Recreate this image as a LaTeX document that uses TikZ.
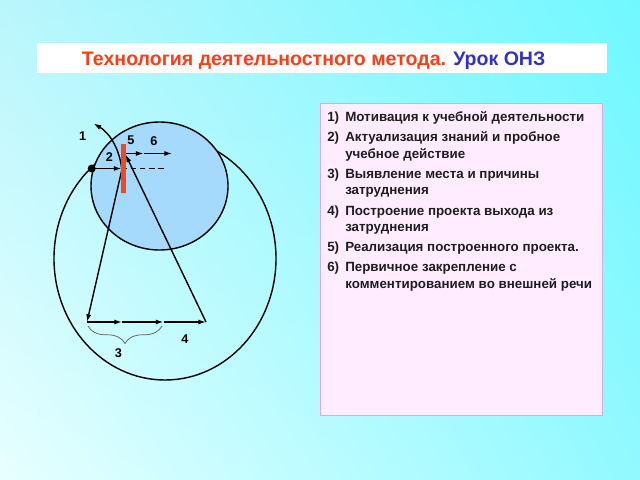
\documentclass[tikz,border=0pt]{standalone}
\usepackage{fontspec}
\setmainfont{Liberation Sans}
\usetikzlibrary{arrows.meta}
\usetikzlibrary{positioning}
\usetikzlibrary{shadings}
\usetikzlibrary{decorations.pathreplacing}
\definecolor{titlered}{RGB}{250,62,22}
\definecolor{titleblue}{RGB}{50,52,190}
\definecolor{zonefill}{RGB}{165,218,252}
\definecolor{barred}{RGB}{240,72,36}
\definecolor{listfill}{RGB}{255,236,255}
\definecolor{listedge}{RGB}{215,172,230}
\definecolor{listtext}{RGB}{30,30,30}
\definecolor{bracegray}{RGB}{90,90,90}
\definecolor{bgtl}{RGB}{185,246,252}
\definecolor{bgtr}{RGB}{112,248,255}
\definecolor{bgbl}{RGB}{232,255,255}
\definecolor{bgbr}{RGB}{145,249,255}
\newcommand{\stageline}[2]{%
    \parbox[t]{190pt}{\baselineskip=11.8pt
        \hangindent=12.8pt\hangafter=1\noindent
        \makebox[12.8pt][l]{#1}#2}%
}
\def\Motivation{\stageline{1)}{Мотивация к учебной деятельности}}
\def\Actualization{\stageline{2)}{Актуализация знаний и пробное\\учебное действие}}
\def\Difficulty{\stageline{3)}{Выявление места и причины\\затруднения}}
\def\Project{\stageline{4)}{Построение проекта выхода из\\затруднения}}
\def\Realization{\stageline{5)}{Реализация построенного проекта.}}
\def\Fixing{\stageline{6)}{Первичное закрепление с\\комментированием во внешней речи}}

\begin{document}
\begin{tikzpicture}[x=0.025cm, y=-0.025cm,
                    orbit/.style={draw, line width=1pt},
                    flow/.style={line width=1pt, -{Latex[length=5.5pt,width=3.6pt]}},
                    digit/.style={font=\bfseries\fontsize{9}{10}\selectfont, inner sep=0pt},
                    stagenode/.style={anchor=base west, inner sep=0pt,
                        font=\bfseries\fontsize{9.5}{11.8}\selectfont, text=listtext},
                    brace3/.style={decorate, decoration={brace, mirror, amplitude=12.5pt},
                        draw=bracegray, line width=0.5pt}]
    \useasboundingbox (0,0) rectangle (640,480);

    % background and title bar
    \shade[upper left=bgtl, upper right=bgtr, lower left=bgbl, lower right=bgbr]
        (0,0) rectangle (640,480);
    \fill[white] (37,43.3) rectangle (606.7,73);
    \node[anchor=base west, inner sep=0pt, font=\bfseries\fontsize{13.9}{16}\selectfont]
        (title) at (81.7,65)
        {\textcolor{titlered}{Технология деятельностного метода.} \textcolor{titleblue}{Урок ОНЗ}};

    % list of stages
    \draw[fill=listfill, draw=listedge, line width=0.7pt] (320,103) rectangle (602.7,415);
    \node[stagenode] (m1) at (327,121)   {\Motivation};
    \node[stagenode] (m2) at (327,141.7) {\Actualization};
    \node[stagenode] (m3) at (327,178.3) {\Difficulty};
    \node[stagenode] (m4) at (327,215)   {\Project};
    \node[stagenode] (m5) at (327,251.7) {\Realization};
    \node[stagenode] (m6) at (327,271.7) {\Fixing};

    % the two zones
    \draw[orbit] (165,258.5) ellipse [x radius=111, y radius=121.5];
    \draw[orbit, fill=zonefill] (159.5,186) ellipse [x radius=68.5, y radius=64];

    % points of the route
    \coordinate (start) at (91.7,168.5);
    \coordinate (stop)  at (121.5,168.5);
    \coordinate (gap)   at (167,168.5);
    \coordinate (bend)  at (121.8,170);
    \coordinate (up)    at (93.5,123.5);
    \coordinate (bl)    at (87,322);
    \coordinate (b1)    at (122,322);
    \coordinate (b2)    at (163.5,322);
    \coordinate (br)    at (206,322);
    \coordinate (top)   at (125.5,154.5);
    \coordinate (r1)    at (143.5,153.5);
    \coordinate (r2)    at (172,153.5);

    % route
    \draw[flow] (start) -- (stop);
    \draw[line width=1pt, dash pattern=on 4pt off 2.5pt] (stop) -- (gap);
    \draw[line width=1pt, {Latex[length=5.5pt,width=3.6pt]}-{Latex[length=5.5pt,width=3.6pt]}]
        (up) .. controls (110,133) and (120,150) .. (bend) -- (bl);
    \draw[flow] (bl) -- (b1);
    \draw[flow] (b1) -- (b2);
    \draw[flow] (b2) -- (br);
    \draw[flow] (br) -- (top);
    \draw[flow] (125.5,153.5) -- (r1);
    \draw[flow] (r1) -- (r2);
    \draw[brace3] (88,326) -- (162,326);

    % barrier and start point
    \draw[barred, line width=3pt] (123.5,144) -- (123.5,193);
    \fill (start) circle [radius=4];

    % numbers
    \node[digit] (n1) at (82.7,136)   {1};
    \node[digit] (n2) at (109.3,157.3) {2};
    \node[digit] (n5) at (131,140.7)  {5};
    \node[digit] (n6) at (154,140.7)  {6};
    \node[digit] (n3) at (118.3,352.7) {3};
    \node[digit] (n4) at (185,339.3)  {4};
\end{tikzpicture}
\end{document}
